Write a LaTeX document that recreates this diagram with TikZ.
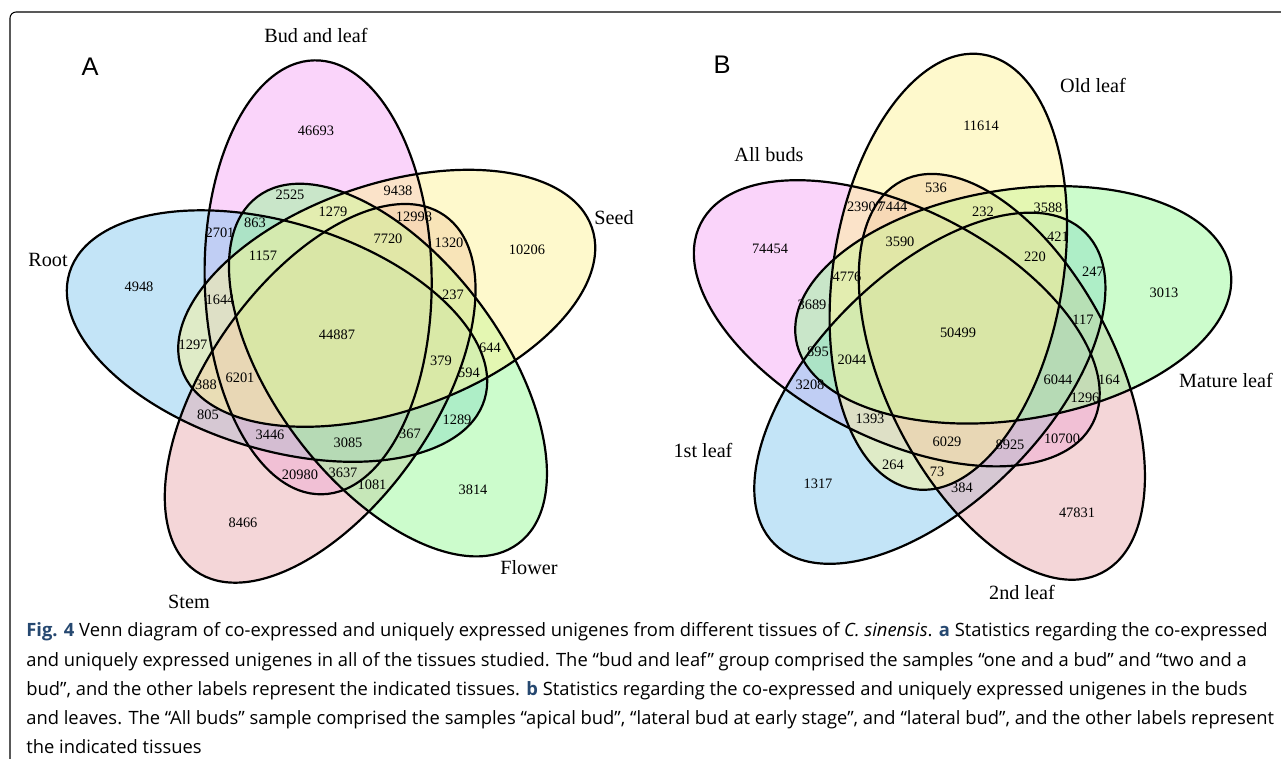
\documentclass[tikz,border=0pt]{standalone}
\usepackage{fontspec}
\setmainfont{Liberation Serif}
\newfontfamily\panelfont{Liberation Sans}
\newfontfamily\capfont{Open Sans}
\usetikzlibrary{calc}

\definecolor{vennpink}{RGB}{245,169,245}
\definecolor{vennblue}{RGB}{135,201,239}
\definecolor{vennsalmon}{RGB}{233,173,177}
\definecolor{venngreen}{RGB}{153,249,153}
\definecolor{vennyellow}{RGB}{253,243,153}
\definecolor{figblue}{RGB}{38,72,112}

\begin{document}
\begin{tikzpicture}[x=0.02cm,y=-0.02cm,
    num/.style={font=\fontsize{8.2}{9}\selectfont,inner sep=0pt},
    setlabel/.style={font=\fontsize{11.5}{13}\selectfont,inner sep=0pt},
    panel/.style={font=\panelfont\fontsize{14.5}{16}\selectfont,inner sep=0pt},
    capline/.style={font=\capfont\fontsize{10.45}{12}\selectfont,anchor=base west,inner sep=0pt},
    vennfill/.style={fill=#1,fill opacity=0.5},
    vennline/.style={draw=black,line width=1.25pt}]
\useasboundingbox (0,0) rectangle (1281,759);
\draw[line width=0.6pt,rounded corners=3.5pt] (10,759) -- (10,12) -- (1281,12);

\foreach \k/\col in {0/vennpink,4/vennblue,3/vennsalmon,2/venngreen,1/vennyellow} {
    \pgfmathsetmacro\cx{338+61*cos(109-72*\k)}
    \pgfmathsetmacro\cy{335-61*sin(109-72*\k)}
    \pgfmathsetmacro\rot{91-72*\k}
    \coordinate (A\k) at (\cx,\cy);
    \fill[vennfill=\col,rotate around={\rot:(A\k)}] (A\k) ellipse (217 and 113.5);
}
\foreach \k in {0,...,4} {
    \pgfmathsetmacro\rot{91-72*\k}
    \draw[vennline,rotate around={\rot:(A\k)}] (A\k) ellipse (217 and 113.5);
}

\foreach \k/\col in {4/vennpink,3/vennblue,2/vennsalmon,1/venngreen,0/vennyellow} {
    \pgfmathsetmacro\cx{958+62*cos(99-72*\k)}
    \pgfmathsetmacro\cy{333-62*sin(99-72*\k)}
    \pgfmathsetmacro\rot{81-72*\k}
    \coordinate (B\k) at (\cx,\cy);
    \fill[vennfill=\col,rotate around={\rot:(B\k)}] (B\k) ellipse (220 and 115);
}
\foreach \k in {0,...,4} {
    \pgfmathsetmacro\rot{81-72*\k}
    \draw[vennline,rotate around={\rot:(B\k)}] (B\k) ellipse (220 and 115);
}

\foreach \x/\y/\n in {316/131/46693,290/195/2525,398/191/9438,333/212/1279,414/217/12998,
    255/223/863,220/233/2701,388/239/7720,449/243/1320,527/250/10206,263/256/1157,
    139/287/4948,220/300/1644,453/295/237,337/335/44887,193/345/1297,490/348/644,
    441/361/379,469/373/594,240/378/6201,206/385/388,208/415/805,457/420/1289,
    270/435/3446,348/443/3085,410/434/367,300/475/20980,343/473/3637,372/485/1081,
    473/490/3814,243/523/8466} {
    \node[num] (a\n) at (\x,\y) {\n};
}

\foreach \x/\y/\n in {981/126/11614,936/188/536,865/207/23907,893/207/7444,1048/208/3588,
    983/212/232,900/242/3590,1058/237/421,1035/257/220,770/249/74454,847/277/4776,
    1093/272/247,1164/293/3013,812/305/3689,958/333/50499,1083/320/117,818/352/895,
    852/360/2044,1058/380/6044,1109/380/164,810/385/3208,1085/398/1296,870/419/1393,
    947/442/6029,1010/445/8925,1062/439/10700,893/465/264,937/472/73,962/488/384,
    818/484/1317,1077/513/47831} {
    \node[num] (b\n) at (\x,\y) {\n};
}

\node[panel] (panelA) at (90,67) {A};
\node[setlabel] (budleaf) at (316,35) {Bud and leaf};
\node[setlabel] (seed) at (614,218) {Seed};
\node[setlabel] (root) at (48,260) {Root};
\node[setlabel] (flower) at (529,568) {Flower};
\node[setlabel] (stem) at (189,602) {Stem};

\node[panel] (panelB) at (722,65) {B};
\node[setlabel] (oldleaf) at (1093,85) {Old leaf};
\node[setlabel] (allbuds) at (769,155) {All buds};
\node[setlabel] (matureleaf) at (1226,380) {Mature leaf};
\node[setlabel] (firstleaf) at (703,450) {1st leaf};
\node[setlabel] (secondleaf) at (1022,592) {2nd leaf};

\node[capline] (cap1) at (26,637) {\textbf{\color{figblue}Fig. 4} Venn diagram of co-expressed and uniquely expressed unigenes from different tissues of \textit{C. sinensis}. \textbf{\color{figblue}a} Statistics regarding the co-expressed};
\node[capline] (cap2) at (26,666) {and uniquely expressed unigenes in all of the tissues studied. The “bud and leaf” group comprised the samples “one and a bud” and “two and a};
\node[capline] (cap3) at (26,695) {bud”, and the other labels represent the indicated tissues. \textbf{\color{figblue}b} Statistics regarding the co-expressed and uniquely expressed unigenes in the buds};
\node[capline] (cap4) at (26,724) {and leaves. The “All buds” sample comprised the samples “apical bud”, “lateral bud at early stage”, and “lateral bud”, and the other labels represent};
\node[capline] (cap5) at (26,753) {the indicated tissues};
\end{tikzpicture}
\end{document}
